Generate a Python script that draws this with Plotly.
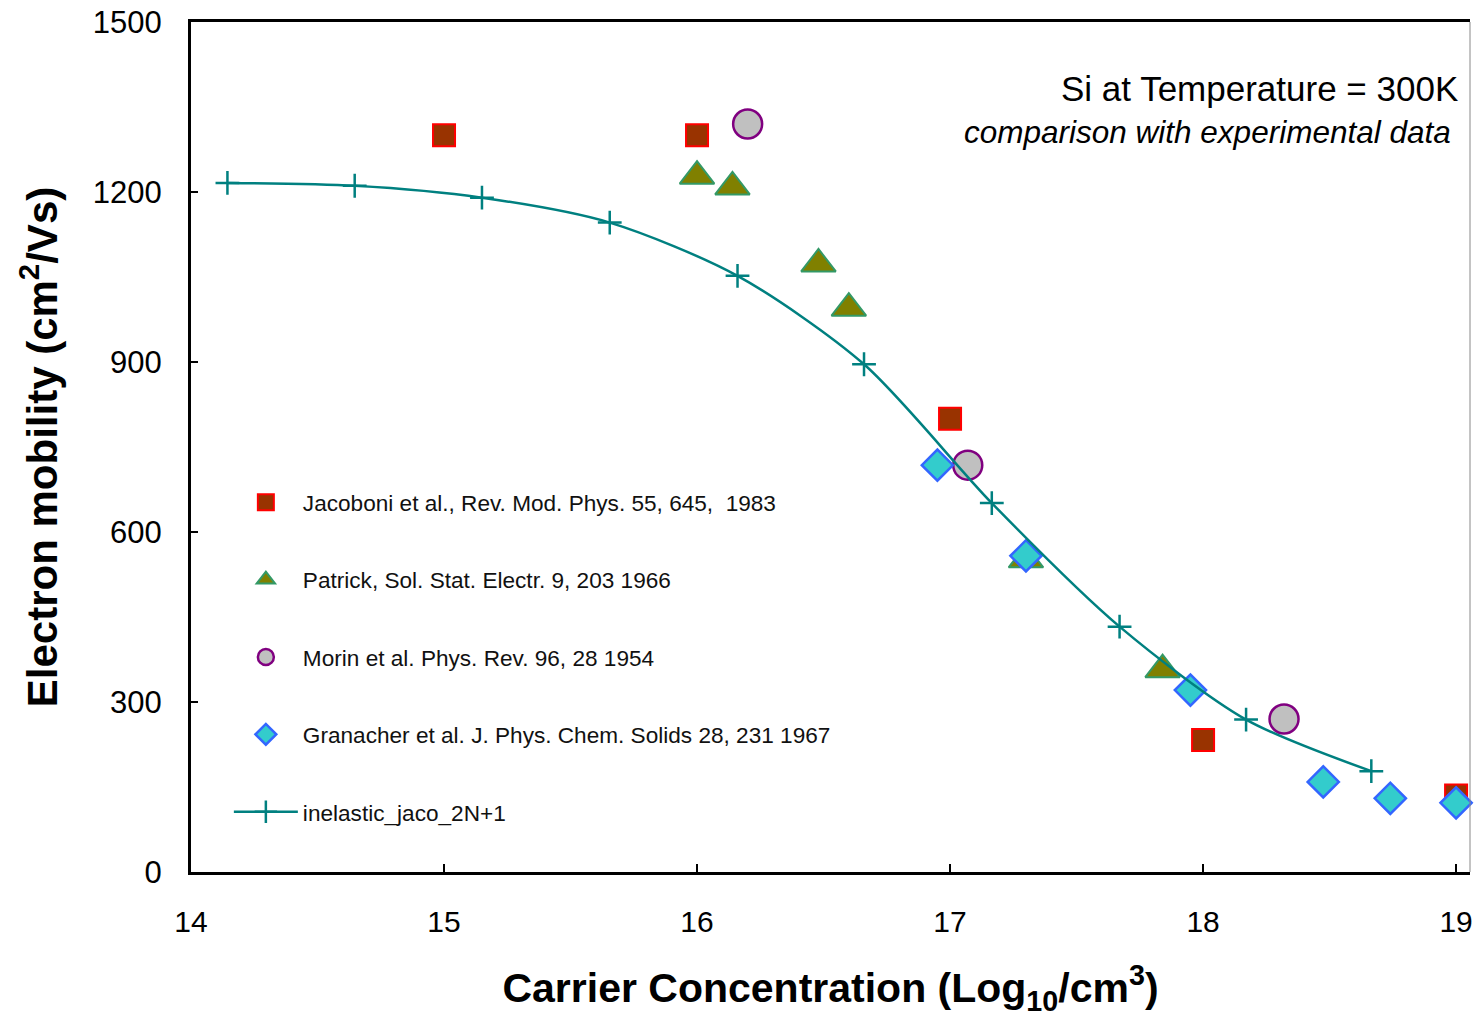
import plotly.graph_objects as go

# Experimental electron mobility data for Si at 300K (x = log10 carrier concentration)
jacoboni_x = [15.0, 16.0, 17.0, 18.0, 19.0]
jacoboni_y = [1300, 1300, 800, 233, 135]

patrick_x = [16.0, 16.14, 16.48, 16.6, 17.3, 17.84]
patrick_y = [1228, 1209, 1073, 995, 551, 357]

morin_x = [16.2, 17.07, 18.32]
morin_y = [1320, 718, 270]

granacher_x = [16.95, 17.3, 17.95, 18.475, 18.74, 19.0]
granacher_y = [718, 558, 321, 159, 130, 122]

# Simulation curve
sim_x = [14.144, 14.647, 15.15, 15.655, 16.16, 16.66, 17.165, 17.67, 18.17, 18.665]
sim_y = [1216, 1211, 1190, 1146, 1052, 896, 651, 433, 269, 178]

x_ticks = [14, 15, 16, 17, 18, 19]
y_ticks = [0, 300, 600, 900, 1200, 1500]

FONT = "Liberation Sans, Arial, sans-serif"

fig = go.Figure()

fig.add_trace(go.Scatter(
    x=jacoboni_x, y=jacoboni_y, mode="markers",
    name="Jacoboni et al., Rev. Mod. Phys. 55, 645,  1983",
    legendgroup="g1",
    marker=dict(symbol="square", size=22, color="#993300",
                line=dict(color="#FF0000", width=2)),
    cliponaxis=False,
))
fig.add_trace(go.Scatter(
    x=patrick_x, y=patrick_y, mode="markers",
    name="Patrick, Sol. Stat. Electr. 9, 203 1966",
    legendgroup="g2",
    marker=dict(symbol="triangle-up", size=30, color="#808000",
                line=dict(color="#339966", width=2)),
    cliponaxis=False,
))
fig.add_trace(go.Scatter(
    x=morin_x, y=morin_y, mode="markers",
    name="Morin et al. Phys. Rev. 96, 28 1954",
    legendgroup="g3",
    marker=dict(symbol="circle", size=29, color="#C0C0C0",
                line=dict(color="#800080", width=2.5)),
    cliponaxis=False,
))
fig.add_trace(go.Scatter(
    x=granacher_x, y=granacher_y, mode="markers",
    name="Granacher et al. J. Phys. Chem. Solids 28, 231 1967",
    legendgroup="g4",
    marker=dict(symbol="diamond", size=24, color="#33CCCC",
                line=dict(color="#3366FF", width=2.5)),
    cliponaxis=False,
))
fig.add_trace(go.Scatter(
    x=sim_x, y=sim_y, mode="lines+markers",
    name="inelastic_jaco_2N+1",
    legendgroup="g5",
    line=dict(color="#008080", width=2.5, shape="spline", smoothing=0.8),
    marker=dict(symbol="cross-thin", size=17, color="#008080",
                line=dict(color="#008080", width=2.5)),
    cliponaxis=False,
))

# Text in the upper right corner
fig.add_annotation(
    x=0.9925, y=0.922, xref="paper", yref="paper",
    xanchor="right", yanchor="middle", showarrow=False,
    text="Si at Temperature = 300K",
    font=dict(family=FONT, size=35, color="black"),
)
fig.add_annotation(
    x=0.9865, y=0.8706, xref="paper", yref="paper",
    xanchor="right", yanchor="middle", showarrow=False,
    text="<i>comparison with experimental data</i>",
    font=dict(family=FONT, size=31.5, color="black"),
)

# Thin right border of the plotting frame
fig.add_shape(type="line", xref="paper", yref="paper",
              x0=1, x1=1, y0=0, y1=1,
              line=dict(color="#888888", width=1))

fig.update_layout(
    width=1476, height=1017,
    margin=dict(l=191, r=3, t=22, b=145),
    paper_bgcolor="white", plot_bgcolor="white",
    font=dict(family=FONT, color="black"),
    showlegend=True,
    legend=dict(
        x=0.0296, y=0.4600, xanchor="left", yanchor="top",
        bgcolor="rgba(0,0,0,0)", borderwidth=0,
        font=dict(family=FONT, size=22.6, color="#111111"),
        itemwidth=64, tracegroupgap=45,
    ),
    xaxis=dict(
        range=[14, 19.055], tickvals=x_ticks, ticktext=[str(v) for v in x_ticks],
        showgrid=False, zeroline=False,
        showline=True, linecolor="black", linewidth=3, mirror=True,
        ticks="inside", ticklen=8, tickwidth=2, tickcolor="black",
        tickfont=dict(family=FONT, size=30, color="black"),
        ticklabelstandoff=21,
        title=dict(
            text="<b>Carrier Concentration (Log<sub>10</sub>/cm<sup>3</sup>)</b>",
            font=dict(family=FONT, size=41, color="black"),
            standoff=45,
        ),
    ),
    yaxis=dict(
        range=[0, 1500], tickvals=y_ticks, ticktext=[str(v) for v in y_ticks],
        showgrid=False, zeroline=False,
        showline=True, linecolor="black", linewidth=3, mirror=False,
        ticks="inside", ticklen=7, tickwidth=2, tickcolor="black",
        tickfont=dict(family=FONT, size=31, color="black"),
        ticklabelstandoff=20,
        title=dict(
            text="<b>Electron mobility (cm<sup>2</sup>/Vs)</b>",
            font=dict(family=FONT, size=42, color="black"),
            standoff=23,
        ),
    ),
)

fig.write_html("out.html")
